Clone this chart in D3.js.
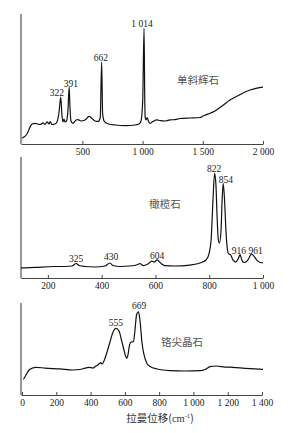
<!DOCTYPE html>
<html>
<head>
<meta charset="utf-8">
<script src="https://cdn.jsdelivr.net/npm/d3@7"></script>
<style>
  body { margin: 0; background: #fff; }
  svg { display: block; }
  .tick text { font-family: "Liberation Serif", "DejaVu Serif", serif; font-size: 9.5px; fill: #222; }
  .peak { font-family: "Liberation Serif", "DejaVu Serif", serif; font-size: 9.5px; fill: #222; }
  .name { font-family: "Noto Sans CJK SC", sans-serif; font-size: 10.5px; fill: #555; }
</style>
</head>
<body>
<div id="chart"></div>
<script>
// clinopyroxene spectrum: raman shift / relative intensity
const waveCpx = [-2, 15, 40, 65, 81, 106, 148, 173, 189, 206, 223, 231, 247, 272, 289, 306, 320, 330, 339, 347, 355, 368, 380, 390, 397, 405, 422, 447, 463, 488, 522, 555, 580, 605, 630, 648, 660, 668, 683, 716, 775, 858, 937, 970, 987, 1001, 1012, 1018, 1022, 1028, 1037, 1045, 1061, 1086, 1119, 1144, 1186, 1228, 1269, 1311, 1394, 1477, 1502, 1543, 1601, 1660, 1726, 1809, 1892, 1950, 2000];
const intCpx = [4.6, 5.4, 7.7, 13, 15.4, 15.8, 15, 16.2, 15, 17, 15.4, 17.3, 15, 15.4, 17, 24.6, 36, 22.3, 17, 19.2, 17, 17.7, 26, 43.8, 27.7, 17.7, 15.8, 18.5, 18.8, 17.7, 18.5, 21.2, 19.6, 17.7, 17.3, 20, 63, 23, 17.3, 15.4, 14.6, 14.2, 14.6, 15.4, 17.7, 33.8, 89, 33, 20, 18.5, 20.4, 18.5, 15.8, 17.3, 18.5, 18.1, 17.7, 18.5, 18.8, 19.6, 20, 20.4, 21.5, 23, 25.4, 29.2, 33.8, 38, 41.5, 43, 43.8];

// olivine spectrum
const waveOl = [100, 152, 219, 264, 290, 305, 316, 338, 375, 412, 431, 442, 468, 505, 535, 542, 554, 572, 587, 595, 606, 621, 635, 673, 728, 766, 788, 799, 807, 814, 820, 825, 829, 834, 838, 844, 848, 852, 857, 862, 868, 873, 879, 888, 899, 909, 915, 920, 926, 933, 944, 957, 967, 978, 989, 1000];
const intOl = [8.3, 8.7, 9.5, 9.5, 9.9, 12, 10.3, 9.5, 9.1, 9.9, 12.4, 10.3, 9.5, 9.9, 11.2, 12, 10.3, 11.6, 14, 13.2, 14.9, 12, 10.3, 9.9, 10.7, 12.4, 14.9, 19.8, 31.4, 64.5, 86.4, 76.9, 52, 31.4, 28.9, 39.7, 64.5, 78.3, 64.5, 40, 23.1, 19.8, 19.4, 14.9, 13.2, 16.5, 19.4, 15.7, 13.2, 12.8, 14.9, 19.8, 17.8, 14.5, 12.8, 12.6];

// chromite spectrum
const waveChr = [8, 23, 41, 58, 82, 134, 222, 298, 338, 368, 391, 414, 432, 449, 459, 467, 478, 496, 513, 531, 548, 566, 580, 592, 604, 611, 618, 627, 636, 650, 659, 668, 679, 688, 700, 712, 729, 747, 788, 863, 951, 1039, 1068, 1097, 1132, 1184, 1231, 1301, 1359, 1406];
const intChr = [17, 21.7, 27.2, 29, 30.1, 29.3, 28.3, 27.2, 27.7, 29.3, 30.1, 29.3, 31.5, 33.7, 35.1, 33.7, 37, 46.7, 57.6, 68.5, 72.5, 69.6, 59.8, 51.1, 42.4, 39.9, 43.5, 54.3, 57.6, 57.9, 70.7, 87, 90.5, 81.5, 56.5, 43.5, 34.2, 31, 28.3, 26.6, 26.1, 26.4, 27.7, 30.8, 31.5, 30.4, 30.1, 29, 28.3, 27.9];

// peak labels: text, label shift, label level
const peaksCpx = ["322", "391", "662", "1 014"];
const peakWCpx = [289, 405, 654, 995];
const peakICpx = [37.3, 44.2, 63.5, 90];
const peaksOl = ["325", "430", "604", "822", "854", "916", "961"];
const peakWOl = [305, 435, 606, 818, 862, 910, 973];
const peakIOl = [13.6, 14.5, 16.1, 88, 78.9, 20.2, 20.2];
const peaksChr = ["555", "669"];
const peakWChr = [548, 683];
const peakIChr = [75.5, 93];

const ticksCpx = [500, 1000, 1500, 2000];
const ticksOl = [200, 400, 600, 800, 1000];
const ticksChr = [0, 200, 400, 600, 800, 1000, 1200, 1400];

const names = ["单斜辉石", "橄榄石", "铬尖晶石"];

const width = 297, height = 433;
const svg = d3.select("#chart").append("svg")
    .attr("width", width)
    .attr("height", height);

const fmt = v => d3.format(",")(v).replace(",", " ");

const panels = [
    { wave: waveCpx, inten: intCpx, dom: [-10, 2000], x0: 21, x1: 263, top: 14, bottom: 144,
      ticks: ticksCpx, lab: peaksCpx, labW: peakWCpx, labI: peakICpx, name: names[0], nx: 198, ny: 84 },
    { wave: waveOl, inten: intOl, dom: [100, 1000], x0: 21, x1: 263, top: 157, bottom: 278,
      ticks: ticksOl, lab: peaksOl, labW: peakWOl, labI: peakIOl, name: names[1], nx: 165, ny: 208 },
    { wave: waveChr, inten: intChr, dom: [-6, 1400], x0: 21, x1: 262, top: 303, bottom: 395,
      ticks: ticksChr, lab: peaksChr, labW: peakWChr, labI: peakIChr, name: names[2], nx: 182, ny: 346 }
];

panels.forEach(p => {
    const x = d3.scaleLinear().domain(p.dom).range([p.x0, p.x1]);
    const y = d3.scaleLinear().domain([0, 100]).range([p.bottom, p.top]);

    const g = svg.append("g");

    const xAxis = g.append("g")
        .attr("transform", `translate(0,${p.bottom})`)
        .call(d3.axisBottom(x).tickValues(p.ticks).tickFormat(fmt)
            .tickSizeInner(-3).tickSizeOuter(0).tickPadding(4));
    xAxis.select(".domain").attr("stroke", "#444").attr("stroke-width", 1.1);
    xAxis.selectAll(".tick line").attr("stroke", "#444");

    g.append("line")
        .attr("x1", p.x0).attr("x2", p.x0)
        .attr("y1", p.top).attr("y2", p.bottom)
        .attr("stroke", "#444")
        .attr("stroke-width", 1.1);

    const pts = p.wave.map((w, i) => [w, p.inten[i]]);
    g.append("path")
        .datum(pts)
        .attr("fill", "none")
        .attr("stroke", "#111")
        .attr("stroke-width", 1.2)
        .attr("stroke-linejoin", "round")
        .attr("d", d3.line().x(d => x(d[0])).y(d => y(d[1])).curve(d3.curveMonotoneX));

    g.selectAll(".peak")
        .data(p.lab)
        .enter()
        .append("text")
        .attr("class", "peak")
        .attr("text-anchor", "middle")
        .attr("x", (d, i) => x(p.labW[i]))
        .attr("y", (d, i) => y(p.labI[i]))
        .text(d => d);

    g.append("text")
        .attr("class", "name")
        .attr("text-anchor", "middle")
        .attr("x", p.nx)
        .attr("y", p.ny)
        .text(p.name);
});

const title = svg.append("text")
    .attr("class", "name")
    .attr("text-anchor", "middle")
    .attr("x", 160)
    .attr("y", 422)
    .style("fill", "#333");
title.append("tspan").text("拉曼位移(");
title.append("tspan").style("font-family", "'Liberation Serif', serif").text("cm");
title.append("tspan").attr("dy", -4).style("font-size", "6.5px")
    .style("font-family", "'Liberation Serif', serif").text("-1");
title.append("tspan").attr("dy", 4).text(")");
</script>
</body>
</html>
